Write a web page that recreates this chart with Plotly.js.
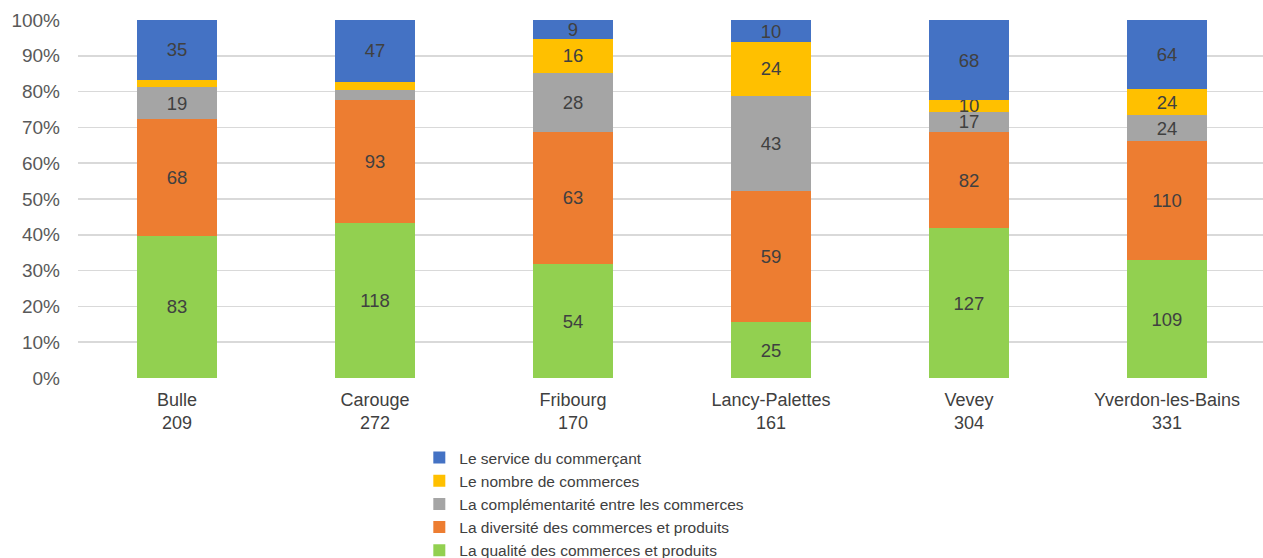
<!DOCTYPE html>
<html><head><meta charset="utf-8">
<script src="https://cdn.plot.ly/plotly-3.0.1.min.js"></script>
<style>html,body{margin:0;padding:0;background:#fff;overflow:hidden;}#chart{width:1263px;height:567px;}</style>
</head><body><div id="chart"></div>
<script>
const cities = ["Bulle", "Carouge", "Fribourg", "Lancy-Palettes", "Vevey", "Yverdon-les-Bains"];
const totals = [209, 272, 170, 161, 304, 331];
const qualite = [83, 118, 54, 25, 127, 109];
const diversite = [68, 93, 63, 59, 82, 110];
const complementarite = [19, 8, 28, 43, 17, 24];
const nombre = [4, 6, 16, 24, 10, 24];
const service = [35, 47, 9, 10, 68, 64];

const names = ["La qualité des commerces et produits", "La diversité des commerces et produits",
  "La complémentarité entre les commerces", "Le nombre de commerces", "Le service du commerçant"];
const colors = ["#92d050", "#ed7d31", "#a5a5a5", "#ffc000", "#4472c4"];
const series = [qualite, diversite, complementarite, nombre, service];

const xlabels = cities.map((c, i) => c + "<br>" + totals[i]);

const traces = series.map((vals, k) => ({
  type: "bar",
  name: names[k],
  x: xlabels,
  y: vals,
  marker: {color: colors[k], line: {width: 0}},
  text: vals.map((v, i) => (v / totals[i] >= 0.03 ? String(v) : "")),
  textposition: "inside",
  insidetextanchor: "middle",
  textangle: 0,
  constraintext: "none",
  textfont: {family: "Liberation Sans, Arial, sans-serif", size: 18.5, color: "#404040"},
  hoverinfo: "none"
}));

const layout = {
  width: 1263, height: 567,
  margin: {l: 78, r: 0, t: 20, b: 189, autoexpand: false},
  barmode: "stack",
  barnorm: "percent",
  bargap: 0.595,
  font: {family: "Liberation Sans, Arial, sans-serif", size: 18, color: "#595959"},
  paper_bgcolor: "#fff", plot_bgcolor: "#fff",
  showlegend: true,
  xaxis: {
    type: "category",
    range: [-0.5, 5.485],
    showgrid: false, zeroline: false, showline: false,
    ticks: "", tickangle: 0, tickfont: {size: 18, color: "#404040"},
    ticklabelstandoff: 9,
    fixedrange: true
  },
  yaxis: {
    range: [0, 100],
    dtick: 10,
    ticksuffix: "%",
    showgrid: true, gridcolor: "#d9d9d9", gridwidth: 1.5,
    zeroline: false, showline: false,
    ticks: "", tickfont: {size: 19, color: "#595959"},
    ticklabelstandoff: 17,
    fixedrange: true
  },
  legend: {
    orientation: "v",
    traceorder: "reversed",
    xref: "container", yref: "container",
    x: 0.332, y: 0, xanchor: "left", yanchor: "bottom",
    font: {size: 15.5, color: "#404040"},
    tracegroupgap: 0,
    itemclick: false, itemdoubleclick: false
  }
};

Plotly.newPlot("chart", traces, layout, {displayModeBar: false, staticPlot: true});
</script>
</body></html>
